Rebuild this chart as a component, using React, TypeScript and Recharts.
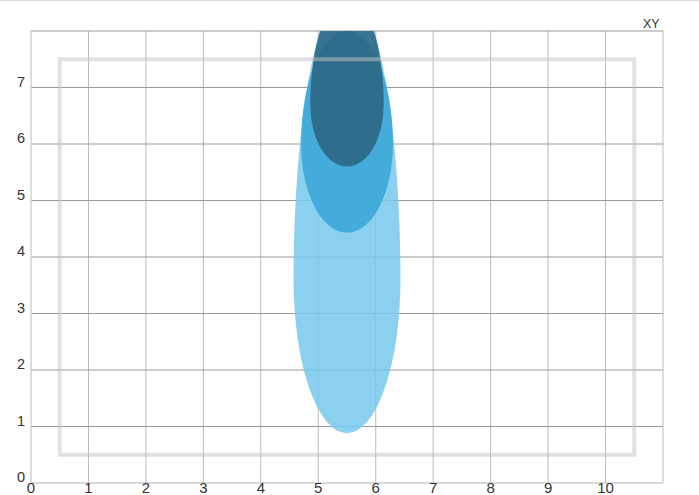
import {
  CartesianGrid,
  ComposedChart,
  Customized,
  ReferenceArea,
  XAxis,
  YAxis,
} from "recharts";

const xTicks = [0, 1, 2, 3, 4, 5, 6, 7, 8, 9, 10, 11];
const yTicks = [0, 1, 2, 3, 4, 5, 6, 7, 8];

// three nested egg shapes, outer to inner: widest at "waist", different radius below / above
const blobNames = ["outer", "middle", "inner"];
const blobCenterX = [5.5, 5.5, 5.5];
const blobWaistY = [3.6, 6.0, 6.7];
const blobRadiusX = [0.93, 0.8, 0.64];
const blobRadiusBelow = [2.72, 1.57, 1.1];
const blobRadiusAbove = [5.1, 2.0, 1.9];
const blobColors = ["#77c8ec", "#36a6d8", "#2c637e"];

// grey frame
const frameX = [0.5, 10.5];
const frameY = [0.5, 7.5];

const W = 699;
const H = 495;
const M = { top: 31, right: 36, left: 0, bottom: 0 };
const Y_AXIS_W = 31;
const X_AXIS_H = 12;
const font = "Liberation Sans, Arial, sans-serif";

const XTick = (props: any) => {
  const { x, y, payload } = props;
  if (payload.value === 11) return null;
  return (
    <text x={x} y={y + 2} textAnchor="middle" fill="#333" fontSize={15} fontFamily={font}>
      {payload.value}
    </text>
  );
};

const YTick = (props: any) => {
  const { y, payload } = props;
  if (payload.value === 8) return null;
  return (
    <text x={25} y={y - 1} textAnchor="end" fill="#333" fontSize={14.5} fontFamily={font}>
      {payload.value}
    </text>
  );
};

const blobShape = (i: number) => (p: any) => {
  const top = Math.min(p.y, p.y + p.height);
  const h = Math.abs(p.height);
  const w = Math.abs(p.width);
  const left = Math.min(p.x, p.x + p.width);
  const total = blobRadiusBelow[i] + blobRadiusAbove[i];
  const ryUp = (h * blobRadiusAbove[i]) / total;
  const ryDown = h - ryUp;
  const waist = top + ryUp;
  const rx = w / 2;
  const d =
    `M${left},${waist} A${rx},${ryUp} 0 0 1 ${left + w},${waist} ` +
    `A${rx},${ryDown} 0 0 1 ${left},${waist} Z`;
  const plotX = Y_AXIS_W + M.left;
  const plotY = M.top;
  const plotW = W - plotX - M.right;
  const plotH = H - M.top - M.bottom - X_AXIS_H;
  return (
    <g>
      <defs>
        <filter id={`soft-${i}`}>
          <feGaussianBlur stdDeviation="0.7" />
        </filter>
        <clipPath id={`clip-${i}`}>
          <rect x={plotX} y={plotY} width={plotW} height={plotH} />
        </clipPath>
      </defs>
      <g clipPath={`url(#clip-${i})`}>
        <path d={d} fill={blobColors[i]} fillOpacity={0.85} filter={`url(#soft-${i})`} />
      </g>
    </g>
  );
};

export default function App() {
  return (
    <div style={{ position: "absolute", left: 0, top: 0, width: W, height: H }}>
      <div style={{ position: "absolute", left: 0, top: 0, width: W, height: 1, background: "#ddd" }} />
      <ComposedChart width={W} height={H} margin={M}>
        <CartesianGrid horizontal={false} stroke="#bbb" />
        <CartesianGrid vertical={false} stroke="#999" />
        <XAxis
          type="number"
          dataKey="x"
          domain={[0, 11]}
          ticks={xTicks}
          allowDataOverflow
          height={X_AXIS_H}
          tickLine={false}
          axisLine={{ stroke: "#e5e5e5" }}
          tick={<XTick />}
          interval={0}
        />
        <YAxis
          type="number"
          dataKey="y"
          domain={[0, 8]}
          ticks={yTicks}
          allowDataOverflow
          width={Y_AXIS_W}
          tickLine={false}
          axisLine={{ stroke: "#ddd" }}
          tick={<YTick />}
          interval={0}
        />
        {blobNames.map((name, i) => (
          <ReferenceArea
            key={name}
            x1={blobCenterX[i] - blobRadiusX[i]}
            x2={blobCenterX[i] + blobRadiusX[i]}
            y1={blobWaistY[i] - blobRadiusBelow[i]}
            y2={blobWaistY[i] + blobRadiusAbove[i]}
            ifOverflow="visible"
            shape={blobShape(i)}
          />
        ))}
        <ReferenceArea
          x1={frameX[0]}
          x2={frameX[1]}
          y1={frameY[0]}
          y2={frameY[1]}
          ifOverflow="visible"
          fill="none"
          stroke="#c4c4c4"
          strokeOpacity={0.5}
          strokeWidth={4}
        />
        <Customized
          component={() => (
            <text x={643} y={28} fontSize={12.5} fill="#333" fontFamily={font}>
              XY
            </text>
          )}
        />
      </ComposedChart>
    </div>
  );
}
